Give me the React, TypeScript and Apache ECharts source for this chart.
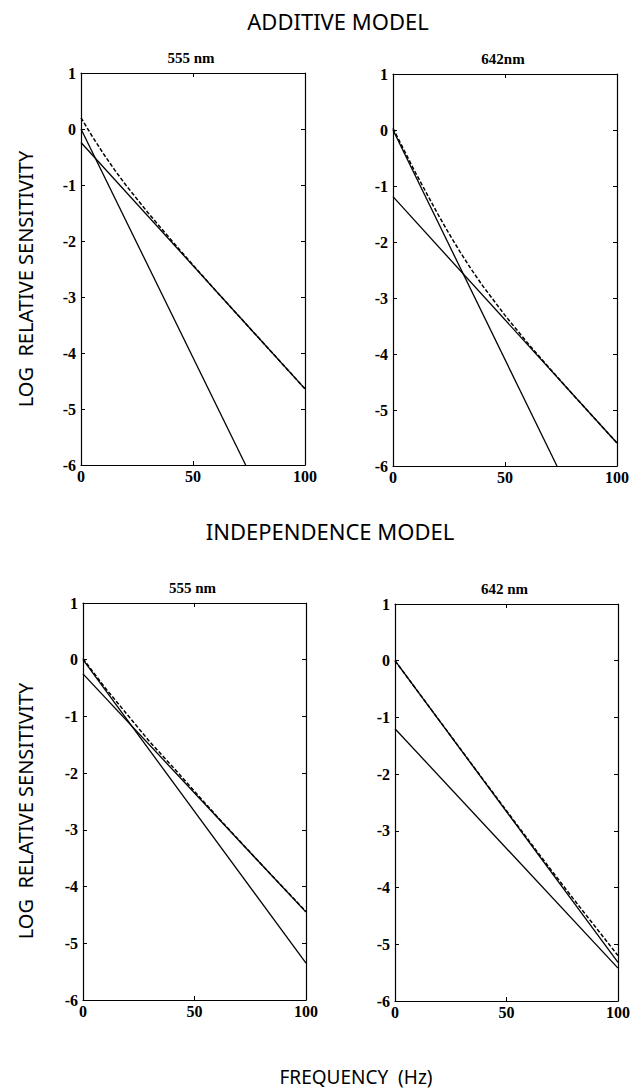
import React, { useEffect, useRef } from "react";
import * as echarts from "echarts";

// Frequency (Hz) vs log relative sensitivity, two models x two wavelengths
const xTicks = [0, 50, 100];
const yRange = { min: -6, max: 1 };

// Additive model, 555 nm
const addSteep555 = [[0, 0], [73.5, -6]];
const addShallow555 = [[0, -0.24], [100, -4.64]];
const addCombined555 = [
  [0, 0.2], [5, -0.13], [10, -0.44], [15, -0.73], [20, -1.0], [30, -1.5],
  [40, -1.97], [50, -2.43], [60, -2.88], [70, -3.32], [80, -3.76], [90, -4.2], [100, -4.64],
];

// Additive model, 642 nm
const addSteep642 = [[0, 0], [73.2, -6]];
const addShallow642 = [[0, -1.19], [100, -5.59]];
const addCombined642 = [
  [0, 0.03], [10, -0.76], [20, -1.5], [25, -1.85], [30, -2.18], [35, -2.49],
  [40, -2.78], [50, -3.31], [60, -3.8], [70, -4.26], [80, -4.71], [90, -5.15], [100, -5.59],
];

// Independence model, 555 nm
const indSteep555 = [[0, 0], [100, -5.35]];
const indShallow555 = [[0, -0.25], [100, -4.45]];
const indCombined555 = [
  [0, 0.02], [10, -0.5], [22, -1.07], [30, -1.45], [40, -1.88], [50, -2.32],
  [60, -2.76], [80, -3.61], [100, -4.44],
];

// Independence model, 642 nm
const indSteep642 = [[0, 0], [100, -5.32]];
const indShallow642 = [[0, -1.2], [100, -5.42]];
const indCombined642 = [
  [0, 0], [20, -1.06], [40, -2.12], [60, -3.17], [70, -3.69], [80, -4.2], [90, -4.7], [100, -5.2],
];

const panelTitles = ["555 nm", "642nm", "555 nm", "642 nm"];
const panels = [
  { steep: addSteep555, shallow: addShallow555, combined: addCombined555 },
  { steep: addSteep642, shallow: addShallow642, combined: addCombined642 },
  { steep: indSteep555, shallow: indShallow555, combined: indCombined555 },
  { steep: indSteep642, shallow: indShallow642, combined: indCombined642 },
];

const gridBoxes = [
  { left: 81, top: 73, width: 224, height: 392 },
  { left: 393, top: 74, width: 224, height: 392 },
  { left: 83, top: 603, width: 223, height: 397 },
  { left: 395, top: 604, width: 223, height: 397 },
];

const SERIF = "'Liberation Serif', 'DejaVu Serif', serif";
const SANS = "'Noto Sans', 'DejaVu Sans', sans-serif";

export default function App() {
  const ref = useRef<HTMLDivElement>(null);

  useEffect(() => {
    document.body.style.margin = "0";
    const chart = echarts.init(ref.current!, undefined, { renderer: "svg" });

    const axisLine = { show: true, onZero: false, lineStyle: { color: "#000", width: 1.2 } };
    const axisTick = { inside: true, length: 4, lineStyle: { color: "#000", width: 1 } };
    const tickLabel = {
      color: "#000",
      fontFamily: SERIF,
      fontWeight: "bold" as const,
      fontSize: 16,
    };

    const xAxes: any[] = [];
    const yAxes: any[] = [];
    const series: any[] = [];
    const graphics: any[] = [];

    gridBoxes.forEach((g, i) => {
      const xCommon = {
        type: "value", gridIndex: i,
        min: xTicks[0], max: xTicks[xTicks.length - 1], interval: 50,
        axisLine, axisTick, splitLine: { show: false },
      };
      const yCommon = {
        type: "value", gridIndex: i,
        min: yRange.min, max: yRange.max, interval: 1,
        axisLine, axisTick, splitLine: { show: false },
      };
      xAxes.push({ ...xCommon, position: "bottom", axisLabel: { ...tickLabel, margin: 3 } });
      xAxes.push({ ...xCommon, position: "top", axisLabel: { show: false } });
      yAxes.push({ ...yCommon, position: "left", axisLabel: { ...tickLabel, margin: 5 } });
      yAxes.push({ ...yCommon, position: "right", axisLabel: { show: false } });

      const p = panels[i];
      const base = {
        type: "line", xAxisIndex: i * 2, yAxisIndex: i * 2,
        showSymbol: false, symbol: "none", smooth: false, clip: true,
        silent: true,
      };
      series.push({ ...base, name: "steep" + i, data: p.steep, lineStyle: { color: "#000", width: 1.3 } });
      series.push({ ...base, name: "shallow" + i, data: p.shallow, lineStyle: { color: "#000", width: 1.3 } });
      series.push({
        ...base, name: "combined" + i, data: p.combined,
        lineStyle: { color: "#000", width: 1.5, type: [4, 2] },
      });

      graphics.push({
        type: "text",
        x: g.left + g.width / 2 - 2,
        y: g.top - 15,
        style: {
          text: panelTitles[i], fill: "#000", font: `bold 15px ${SERIF}`,
          textAlign: "center", textVerticalAlign: "middle",
        },
      });
    });

    // Model headings, shared axis names
    graphics.push(
      {
        type: "text", x: 338, y: 21,
        style: { text: "ADDITIVE MODEL", fill: "#000", font: `22px ${SANS}`, textAlign: "center", textVerticalAlign: "middle" },
      },
      {
        type: "text", x: 330, y: 531,
        style: { text: "INDEPENDENCE MODEL", fill: "#000", font: `22px ${SANS}`, textAlign: "center", textVerticalAlign: "middle" },
      },
      {
        type: "text", x: 356, y: 1077,
        style: { text: "FREQUENCY  (Hz)", fill: "#000", font: `19px ${SANS}`, textAlign: "center", textVerticalAlign: "middle" },
      },
      {
        type: "text", x: 25, y: 279, rotation: Math.PI / 2,
        style: { text: "LOG  RELATIVE SENSITIVITY", fill: "#000", font: `20px ${SANS}`, textAlign: "center", textVerticalAlign: "middle" },
      },
      {
        type: "text", x: 25, y: 811, rotation: Math.PI / 2,
        style: { text: "LOG  RELATIVE SENSITIVITY", fill: "#000", font: `20px ${SANS}`, textAlign: "center", textVerticalAlign: "middle" },
      }
    );

    chart.setOption({
      animation: false,
      backgroundColor: "#fff",
      grid: gridBoxes.map((g) => ({ ...g, containLabel: false })),
      xAxis: xAxes,
      yAxis: yAxes,
      series,
      graphic: graphics,
    });

    return () => chart.dispose();
  }, []);

  return <div ref={ref} style={{ width: 639, height: 1090 }} />;
}
